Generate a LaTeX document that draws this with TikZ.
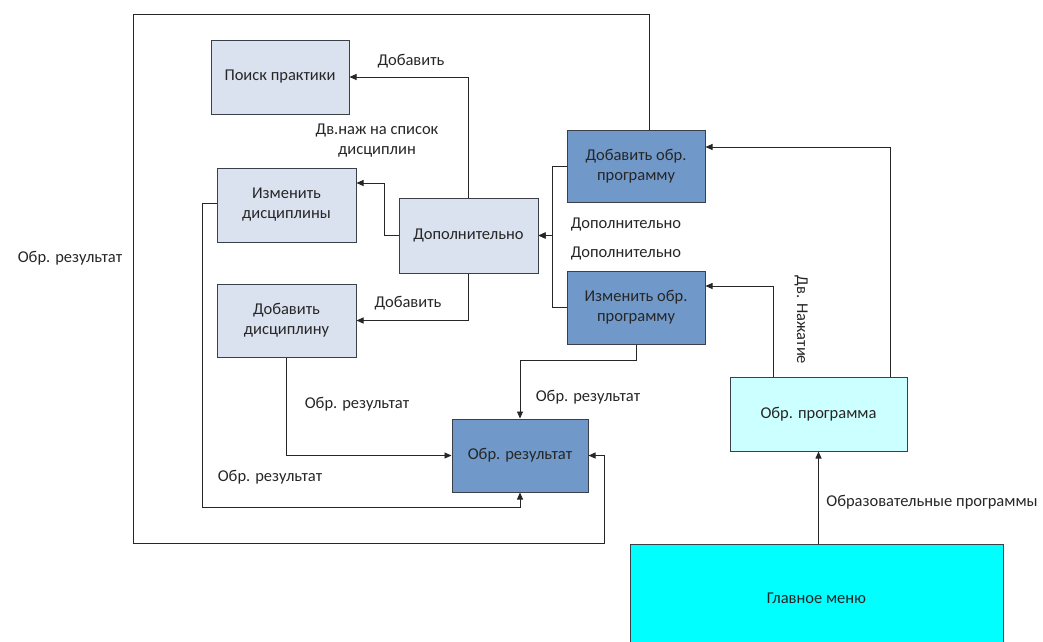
\documentclass[tikz,border=0pt]{standalone}
\usepackage{fontspec}
\setmainfont{Carlito}
\usetikzlibrary{arrows.meta}
\definecolor{lav}{HTML}{DAE1EF}
\definecolor{steel}{HTML}{7098C8}
\definecolor{paleCyan}{HTML}{CCFFFF}
\definecolor{brightCyan}{HTML}{00FFFF}
\definecolor{edge}{HTML}{3A3F48}
\definecolor{ink}{HTML}{262626}
\begin{document}
\begin{tikzpicture}[x=1pt,y=-1pt,
  font=\fontsize{16.5}{20}\selectfont,
  text=ink,
  box/.style={draw=edge,line width=1pt,inner sep=0pt,align=center},
  arr/.style={draw=ink,line width=0.9pt,-{Triangle[length=7pt,width=6pt]}},
  lbl/.style={inner sep=0pt,align=center}]
\useasboundingbox (0,0) rectangle (1043,641);

% boxes
\node[box,fill=lav,minimum width=138pt,minimum height=74pt] (poisk) at (280,77) {Поиск практики};
\node[box,fill=lav,minimum width=139pt,minimum height=74pt] (izm) at (286.5,205) {Изменить\\дисциплины};
\node[box,fill=lav,minimum width=139pt,minimum height=75pt] (dop) at (468.5,235.5) {Дополнительно};
\node[box,fill=lav,minimum width=139pt,minimum height=73pt] (dobd) at (286.5,320.5) {Добавить\\дисциплину};
\node[box,fill=steel,minimum width=138pt,minimum height=72pt] (dobo) at (636,166) {Добавить обр.\\программу};
\node[box,fill=steel,minimum width=138pt,minimum height=73pt] (izmo) at (636,307.5) {Изменить обр.\\программу};
\node[box,fill=steel,minimum width=136pt,minimum height=73pt] (res) at (520,455.5) {Обр. результат};
\node[box,fill=paleCyan,minimum width=177pt,minimum height=74pt] (prog) at (818.5,414) {Обр. программа};
\node[box,fill=brightCyan,minimum width=373pt,minimum height=108pt] (main) at (816.5,598) {Главное меню};

% connectors
\draw[arr] (dop.north) |- (poisk.east);
\draw[arr] (dop.west) -| (384,183) -- ([yshift=22pt]izm.east);
\draw[arr] (dop.south) |- (dobd.east);
\draw[arr] (dobo.west) -| (552,235.5) -- (dop.east);
\draw[arr] (izmo.west) -| (552,235.5) -- (dop.east);
\draw[arr] ([xshift=71.5pt]prog.north) |- ([yshift=19pt]dobo.east);
\draw[arr] ([xshift=-45.5pt]prog.north) |- ([yshift=21.5pt]izmo.east);
\draw[arr] (prog.south |- main.north) -- (prog.south);
\draw[arr] ([yshift=2pt]izm.west) -| (202,507) -| (res.south);
\draw[arr] (dobd.south) |- (res.west);
\draw[arr] (izmo.south) -- ++(0,16) -| (res.north);
\draw[arr] ([xshift=13pt]dobo.north) |- (133,14) |- (604,543) |- (res.east);

% labels
\node[lbl] (l1) at (411,61) {Добавить};
\node[lbl] (l2) at (377,141) {Дв.наж на список\\дисциплин};
\node[lbl] (l3) at (408,303) {Добавить};
\node[lbl] (l4) at (626,224) {Дополнительно};
\node[lbl] (l5) at (626,253) {Дополнительно};
\node[lbl,rotate=-90] (l6) at (801,320) {Дв. Нажатие};
\node[lbl] (l7) at (932,502) {Образовательные программы};
\node[lbl] (l8) at (357,404) {Обр. результат};
\node[lbl] (l9) at (588,397) {Обр. результат};
\node[lbl] (l10) at (270,477) {Обр. результат};
\node[lbl] (l11) at (70,258) {Обр. результат};
\end{tikzpicture}
\end{document}
